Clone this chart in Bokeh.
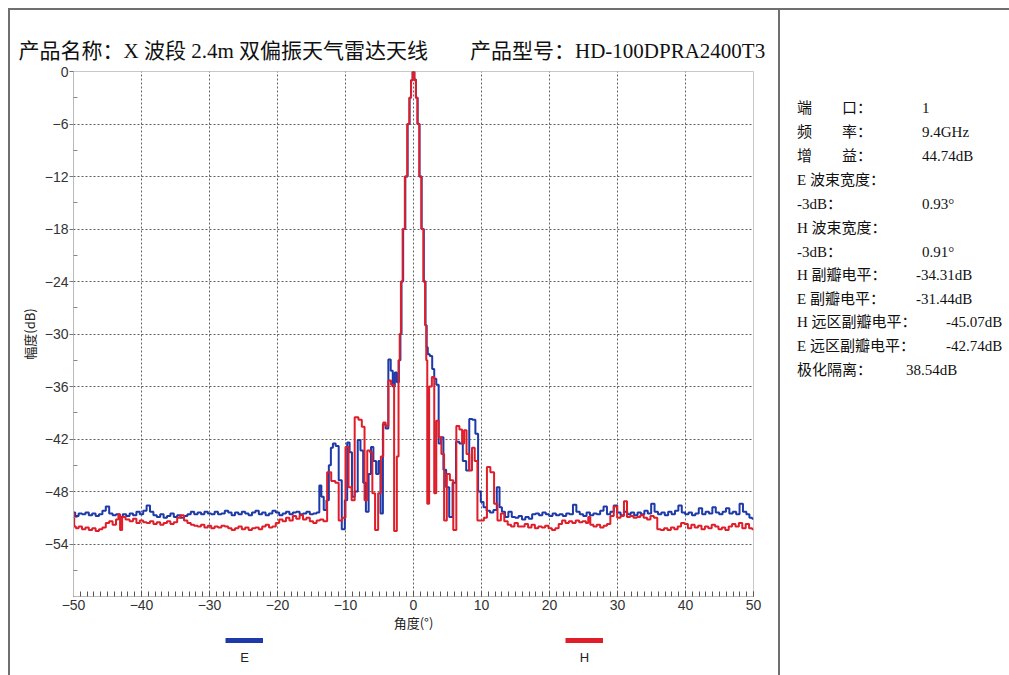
from bokeh.plotting import figure
from bokeh.models import FixedTicker, Legend, LegendItem, Range1d, Div, Label
from bokeh.layouts import row, column
from bokeh.embed import file_html
from bokeh.resources import INLINE

# ---------------- data ----------------
x_ticks = [-50, -40, -30, -20, -10, 0, 10, 20, 30, 40, 50]
x_minor = list(range(-50, 51))
y_ticks = [0, -6, -12, -18, -24, -30, -36, -42, -48, -54]
y_minor = [-3, -9, -15, -21, -27, -33, -39, -45, -51, -57]

angle_e = [-50.0, -49.5, -49.0, -48.5, -48.0, -47.5, -47.0, -46.5, -46.0, -45.5,
           -45.0, -44.5, -44.0, -43.5, -43.0, -42.5, -42.0, -41.5, -41.0, -40.5,
           -40.0, -39.5, -39.0, -38.5, -38.0, -37.5, -37.0, -36.5, -36.0, -35.5,
           -35.0, -34.5, -34.0, -33.5, -33.0, -32.5, -32.0, -31.5, -31.0, -30.5,
           -30.0, -29.5, -29.0, -28.5, -28.0, -27.5, -27.0, -26.5, -26.0, -25.5,
           -25.0, -24.5, -24.0, -23.5, -23.0, -22.5, -22.0, -21.5, -21.0, -20.5,
           -20.0, -19.5, -19.0, -18.5, -18.0, -17.5, -17.0, -16.5, -16.0, -15.5,
           -15.0, -14.5, -14.0, -13.7, -13.4, -13.0, -12.6, -12.3, -12.0, -11.7,
           -11.2, -10.8, -10.3, -9.9, -9.6, -9.2, -8.9, -8.4, -8.0, -7.6,
           -7.2, -6.8, -6.4, -6.1, -5.7, -5.3, -5.0, -4.7, -4.3, -3.9,
           -3.5, -3.2, -2.9, -2.6, -2.3, -2.0, -1.85, -1.67, -1.37, -1.03,
           -0.69, -0.47, -0.25, 0.0, 0.25, 0.47, 0.75, 1.03, 1.37, 1.67,
           1.87, 2.0, 2.2, 2.6, 2.9, 3.2, 3.5, 3.9, 4.2, 4.6,
           5.0, 5.5, 6.0, 6.5, 7.0, 7.5, 8.0, 8.4, 8.9, 9.3,
           9.7, 10.1, 10.5, 11.0, 11.5, 12.0, 12.5, 12.8, 13.2, 13.7,
           14.2, 14.7, 15.2, 15.7, 16.2, 16.7, 17.2, 17.7, 18.2, 18.7,
           19.2, 19.7, 20.2, 20.7, 21.2, 21.7, 22.2, 22.7, 23.2, 23.7,
           24.2, 24.7, 25.2, 25.7, 26.2, 26.7, 27.2, 27.7, 28.2, 28.7,
           29.2, 29.7, 30.2, 30.7, 31.2, 31.7, 32.2, 32.7, 33.2, 33.7,
           34.2, 34.7, 35.2, 35.7, 36.2, 36.7, 37.2, 37.7, 38.2, 38.7,
           39.2, 39.7, 40.2, 40.7, 41.2, 41.7, 42.2, 42.7, 43.2, 43.7,
           44.2, 44.7, 45.2, 45.7, 46.2, 46.7, 47.2, 47.7, 48.2, 48.7,
           49.2, 49.6, 50.0]
level_e = [-50.4, -50.8, -50.5, -50.6, -50.4, -50.7, -50.5, -50.8, -50.6, -50.2,
           -49.7, -50.5, -50.7, -50.6, -50.9, -50.6, -50.8, -50.5, -50.7, -50.3,
           -50.6, -50.2, -49.6, -50.3, -50.7, -50.9, -50.6, -51.0, -50.8, -50.5,
           -50.9, -50.7, -51.0, -50.8, -50.6, -50.3, -50.6, -50.4, -50.6, -50.3,
           -50.5, -50.6, -50.3, -50.6, -50.5, -50.2, -50.4, -50.7, -50.4, -50.6,
           -50.3, -50.5, -50.7, -50.4, -50.2, -50.6, -50.4, -50.7, -50.5, -50.2,
           -50.4, -50.7, -50.5, -50.3, -50.6, -50.4, -50.3, -50.6, -50.5, -50.3,
           -50.6, -50.5, -50.4, -47.3, -48.6, -50.1, -49.0, -45.0, -43.0, -42.5,
           -42.8, -46.7, -52.3, -49.0, -42.4, -43.5, -48.6, -48.0, -42.1, -43.3,
           -47.0, -50.3, -46.0, -42.9, -44.5, -46.0, -44.5, -50.5, -40.3, -40.8,
           -32.9, -34.2, -36.0, -34.4, -35.5, -33.0, -30.0, -24.0, -18.0, -12.0,
           -6.0, -3.0, -1.0, 0.0, -0.9, -3.0, -6.0, -12.0, -18.0, -24.0,
           -29.0, -31.5, -32.3, -32.5, -34.0, -35.1, -35.8, -42.5, -41.8, -45.5,
           -47.5, -50.9, -47.0, -42.3, -42.5, -44.5, -45.6, -39.7, -39.8, -41.4,
           -48.0, -49.2, -49.8, -50.2, -50.4, -50.1, -47.5, -49.8, -50.3, -50.9,
           -50.3, -50.9, -51.0, -50.8, -51.2, -50.9, -51.1, -50.6, -50.5, -50.7,
           -50.4, -50.6, -50.8, -50.5, -50.7, -50.6, -50.8, -50.5, -50.6, -49.5,
           -50.3, -50.6, -50.8, -50.4, -50.7, -50.5, -50.6, -50.2, -49.7, -50.6,
           -50.3, -49.6, -50.4, -50.7, -50.3, -50.6, -50.4, -50.7, -50.4, -50.6,
           -50.2, -50.5, -49.4, -50.3, -50.6, -50.4, -50.7, -50.3, -50.6, -50.2,
           -49.6, -50.4, -50.6, -50.4, -50.7, -50.5, -49.9, -50.6, -50.3, -50.5,
           -49.8, -50.4, -50.6, -50.3, -49.9, -50.5, -50.3, -50.6, -49.4, -50.3,
           -50.6, -51.0, -51.1]

angle_h = [-50.0, -49.8, -49.5, -49.0, -48.5, -48.0, -47.5, -47.0, -46.5, -46.0,
           -45.5, -45.0, -44.5, -44.0, -43.5, -43.3, -43.0, -42.7, -42.0, -41.5,
           -41.0, -40.5, -40.0, -39.5, -39.0, -38.5, -38.0, -37.5, -37.0, -36.5,
           -36.0, -35.5, -35.0, -34.5, -34.0, -33.5, -33.0, -32.5, -32.0, -31.5,
           -31.0, -30.5, -30.0, -29.5, -29.0, -28.5, -28.0, -27.5, -27.0, -26.5,
           -26.0, -25.5, -25.0, -24.5, -24.0, -23.5, -23.0, -22.5, -22.0, -21.5,
           -21.0, -20.5, -20.0, -19.5, -19.0, -18.5, -18.0, -17.5, -17.0, -16.5,
           -16.0, -15.5, -15.0, -14.5, -14.0, -13.5, -13.0, -12.4, -11.8, -11.2,
           -10.8, -10.2, -9.8, -9.3, -8.9, -8.4, -7.8, -7.4, -7.0, -6.6,
           -6.2, -5.9, -5.4, -5.0, -4.6, -4.3, -3.9, -3.5, -3.1, -2.6,
           -2.3, -2.1, -1.95, -1.75, -1.45, -1.1, -0.75, -0.47, -0.25, 0.0,
           0.25, 0.45, 0.7, 1.0, 1.3, 1.6, 1.8, 1.95, 2.1, 2.5,
           2.9, 3.2, 3.5, 3.9, 4.3, 4.7, 5.1, 5.6, 6.1, 6.5,
           7.0, 7.3, 7.6, 8.0, 8.4, 8.8, 9.2, 9.6, 10.1, 10.6,
           11.0, 11.6, 12.1, 12.6, 13.1, 13.6, 14.1, 14.6, 15.1, 15.6,
           16.1, 16.6, 17.1, 17.6, 18.1, 18.6, 19.1, 19.6, 20.1, 20.6,
           21.1, 21.6, 22.1, 22.6, 23.1, 23.6, 24.1, 24.6, 25.1, 25.6,
           25.8, 26.2, 26.7, 27.2, 27.7, 28.2, 28.7, 29.2, 29.7, 30.2,
           30.7, 31.2, 31.6, 32.1, 32.6, 33.1, 33.6, 34.1, 34.6, 35.1,
           35.6, 36.1, 36.6, 37.1, 37.6, 38.1, 38.6, 39.1, 39.6, 40.1,
           40.6, 41.1, 41.6, 42.1, 42.6, 43.1, 43.6, 44.1, 44.6, 45.1,
           45.6, 46.1, 46.6, 47.1, 47.6, 48.1, 48.6, 49.1, 49.6, 50.0]
level_h = [-50.5, -52.0, -52.2, -52.0, -52.3, -52.1, -52.4, -52.2, -52.5, -52.3,
           -52.1, -51.6, -51.4, -51.8, -51.2, -50.6, -52.4, -50.9, -51.2, -51.4,
           -51.1, -51.6, -51.3, -51.5, -51.6, -51.4, -51.7, -51.5, -51.8, -51.6,
           -51.4, -51.7, -51.5, -51.0, -50.7, -51.3, -51.6, -51.8, -51.9, -52.0,
           -51.8, -52.1, -51.9, -52.2, -52.0, -52.1, -51.9, -52.0, -52.2, -52.4,
           -52.2, -52.0, -52.3, -52.1, -52.4, -52.2, -52.1, -52.3, -52.0, -51.8,
           -52.1, -52.0, -51.6, -51.2, -51.4, -51.0, -51.3, -50.8, -51.1, -50.7,
           -51.2, -51.0, -51.4, -51.6, -51.3, -51.2, -51.4, -45.8, -46.8, -47.0,
           -51.3, -51.0, -42.9, -47.5, -49.0, -39.5, -39.8, -40.6, -49.0, -43.3,
           -43.5, -48.2, -52.4, -48.2, -44.0, -40.1, -40.5, -35.3, -35.8, -52.5,
           -44.0, -33.0, -30.0, -24.0, -18.0, -12.0, -6.0, -3.0, -1.0, 0.0,
           -1.0, -3.0, -6.0, -12.0, -18.0, -24.0, -29.0, -33.0, -49.4, -36.0,
           -34.9, -48.2, -39.9, -41.8, -43.7, -51.3, -46.0, -46.7, -52.4, -40.5,
           -40.9, -42.5, -41.0, -43.7, -45.6, -43.0, -44.5, -51.3, -51.3, -51.0,
           -45.2, -45.8, -49.4, -51.3, -50.5, -51.4, -51.8, -52.0, -51.6, -52.0,
           -52.0, -51.7, -52.1, -51.8, -52.2, -52.0, -52.1, -51.9, -52.2, -52.4,
           -52.2, -51.7, -51.3, -51.6, -51.4, -51.6, -51.3, -51.5, -51.4, -51.6,
           -50.9, -51.8, -52.0, -51.8, -52.1, -51.9, -51.7, -50.8, -49.7, -51.0,
           -50.8, -49.1, -50.9, -50.8, -51.0, -50.9, -50.7, -51.0, -51.2, -50.8,
           -51.0, -52.3, -52.4, -52.2, -52.4, -52.1, -52.3, -52.0, -51.6, -51.7,
           -52.2, -51.8, -52.1, -51.9, -52.3, -52.0, -52.2, -51.8, -52.0, -52.3,
           -52.1, -52.4, -52.0, -51.7, -52.0, -51.6, -52.2, -51.7, -52.2, -52.3]

title_text = "产品名称：X 波段 2.4m 双偏振天气雷达天线　　产品型号：HD-100DPRA2400T3"
series_names = ["E", "H"]
info_names = ["端　　口：", "频　　率：", "增　　益：", "E 波束宽度：", "-3dB：", "H 波束宽度：",
              "-3dB：", "H 副瓣电平：", "E 副瓣电平：", "H 远区副瓣电平：", "E 远区副瓣电平：", "极化隔离："]
info_values = ["1", "9.4GHz", "44.74dB", "", "0.93°", "", "0.91°",
               "-34.31dB", "-31.44dB", "-45.07dB", "-42.74dB", "38.54dB"]

BLUE = "#1d3aa8"
RED = "#e01e2a"
LINE = "#6f6f6f"
SERIF_CJK = "'Liberation Serif', 'Noto Sans CJK SC'"

# ---------------- main chart (page x 10..778, y 10..635) ----------------
p = figure(width=768, height=625, x_range=Range1d(-50, 50), y_range=Range1d(-60, 0),
           output_backend="svg", toolbar_location=None, margin=0,
           min_border_left=63, min_border_right=25, min_border_top=61, min_border_bottom=39)
p.background_fill_color = "white"
p.border_fill_color = "white"
p.outline_line_color = "#c8c8c8"

p.title.text = title_text
p.title.text_font = SERIF_CJK
p.title.text_font_size = "21px"
p.title.text_font_style = "normal"
p.title.text_color = "#111111"
p.title.align = "left"
p.title.offset = -55
p.title.standoff = 18

p.xaxis.ticker = FixedTicker(ticks=x_ticks, minor_ticks=x_minor)
p.yaxis.ticker = FixedTicker(ticks=y_ticks, minor_ticks=y_minor)
p.xgrid.ticker = FixedTicker(ticks=x_ticks)
p.ygrid.ticker = FixedTicker(ticks=y_ticks)
for g in (p.xgrid, p.ygrid):
    g.grid_line_color = "#444444"
    g.grid_line_dash = "2 2"
    g.grid_line_width = 1
    g.grid_line_alpha = 0.85

p.xaxis.axis_label = "角度(°)"
p.yaxis.axis_label = "幅度(dB)"
for ax in (p.xaxis, p.yaxis):
    ax.axis_line_color = "#bbbbbb"
    ax.major_label_text_font = "Liberation Sans"
    ax.major_label_text_font_size = "14px"
    ax.major_label_text_color = "#333333"
    ax.axis_label_text_font = "Noto Sans CJK SC"
    ax.axis_label_text_font_style = "normal"
    ax.axis_label_text_font_size = "13px"
    ax.axis_label_text_color = "#222222"
p.xaxis.major_tick_in = 5
p.xaxis.major_tick_out = 0
p.xaxis.minor_tick_in = 5
p.xaxis.minor_tick_out = 0
p.xaxis.major_tick_line_color = "#555555"
p.xaxis.minor_tick_line_color = "#555555"
p.xaxis.major_label_standoff = 3
p.xaxis.axis_label_standoff = 0
p.yaxis.major_tick_in = 0
p.yaxis.major_tick_out = 4
p.yaxis.minor_tick_in = 4
p.yaxis.minor_tick_out = 0
p.yaxis.major_tick_line_color = "#777777"
p.yaxis.minor_tick_line_color = "#888888"
p.yaxis.major_label_standoff = 1
p.yaxis.axis_label_standoff = 3

p.step(angle_e, level_e, mode="center", line_color=BLUE, line_width=2)
p.step(angle_h, level_h, mode="center", line_color=RED, line_width=2)

# ---------------- legend strip (frame aligned with the chart: x 73..753, y 635..675) ----------------
# the same series are drawn again far outside this strip's y range, so the legend keys are real line keys
lg = figure(width=768, height=40, x_range=Range1d(-50, 50), y_range=Range1d(100, 101),
            output_backend="svg", toolbar_location=None, margin=0,
            x_axis_type=None, y_axis_type=None,
            min_border_left=0, min_border_right=0, min_border_top=0, min_border_bottom=0)
lg.outline_line_color = None
lg.xgrid.visible = False
lg.ygrid.visible = False
leg_e = lg.step(angle_e, level_e, mode="center", line_color=BLUE, line_width=5)
leg_h = lg.step(angle_h, level_h, mode="center", line_color=RED, line_width=5)
# legend keys (label text is written underneath each key, as in the source chart)
for rend, name, key_left in ((leg_e, series_names[0], 152), (leg_h, series_names[1], 492)):
    lg.add_layout(Legend(items=[LegendItem(label=" ", renderers=[rend])],
                         location=(key_left, 27), padding=0, margin=0, spacing=0,
                         border_line_color=None, background_fill_alpha=0,
                         glyph_width=38, glyph_height=16, label_height=16, label_width=1,
                         label_standoff=0, label_text_font_size="13px"))
    key_center = -50 + (key_left + 19) / 6.8
    lg.add_layout(Label(x=key_center, y=100.45, text=name, text_align="center",
                        text_baseline="middle", text_font="Liberation Sans",
                        text_font_size="13px", text_color="#222222"))

# ---------------- info panel (page x 780..1009) ----------------
row_y = [108, 132, 156, 180, 204, 228, 252, 275, 299, 322, 346, 370]
val_x = [922, 922, 922, 922, 922, 922, 922, 916, 916, 946, 946, 906]
parts = []
for name, val, yy, vx in zip(info_names, info_values, row_y, val_x):
    top = yy - 12 - 10
    parts.append(f'<div style="position:absolute;left:17px;top:{top}px;line-height:24px;white-space:nowrap;">{name}</div>')
    if val:
        parts.append(f'<div style="position:absolute;left:{vx - 780}px;top:{top}px;line-height:24px;white-space:nowrap;">{val}</div>')
info_html = (f'<div style="position:relative;width:229px;height:665px;font-family:{SERIF_CJK};'
             f'font-size:15px;color:#111111;">' + "".join(parts) + '</div>')
info = Div(text=info_html, width=229, height=665, margin=0)

# ---------------- document table lines ----------------
top_blank = Div(text="", width=1009, height=8, margin=0)
top_pad = Div(text="", width=8, height=2, margin=0)
top_line = Div(text="", width=1001, height=2, margin=0, styles={"background-color": LINE})
left_blank = Div(text="", width=8, height=665, margin=0)
left_line = Div(text="", width=2, height=665, margin=0, styles={"background-color": LINE})
divider = Div(text="", width=2, height=665, margin=0, styles={"background-color": LINE})

chart = column(p, lg, spacing=0)
page = column(top_blank, row(top_pad, top_line, spacing=0),
              row(left_blank, left_line, chart, divider, info, spacing=0), spacing=0)

open("out.html", "w").write(file_html(page, INLINE))
